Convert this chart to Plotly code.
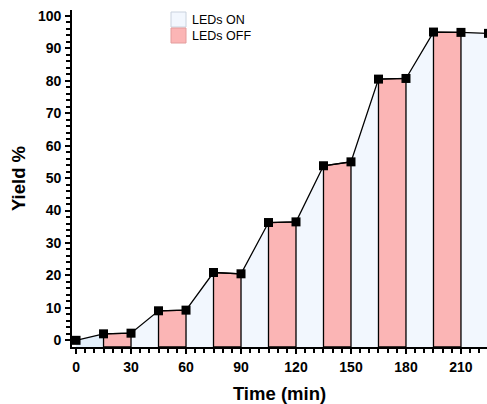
import plotly.graph_objects as go

# ---- data ----
time_min = [0, 15, 30, 45, 60, 75, 90, 105, 120, 135, 150, 165, 180, 195, 210, 225]
yield_pct = [0, 2.0, 2.2, 9.1, 9.3, 20.9, 20.5, 36.3, 36.5, 53.8, 55.0, 80.5, 80.7, 95.0, 94.9, 94.6]
x_ticks = [0, 30, 60, 90, 120, 150, 180, 210]
y_ticks = [0, 10, 20, 30, 40, 50, 60, 70, 80, 90, 100]
legend_labels = ["LEDs ON", "LEDs OFF"]

# ---- style ----
W, H = 487, 404
ML, MR, MT, MB = 72, 0, 10, 57
X_RANGE = [-2.2, 224.2]
Y_RANGE = [-2.06, 101.8]
X_MINOR_STEP = 5
Y_MINOR_STEP = 2
ON_COLOR = "#f2f7fe"
ON_FIRST = "#e3effa"
OFF_COLOR = "#fbb5b5"
FONT = "Liberation Sans, Arial, sans-serif"

fig = go.Figure()
ybase = Y_RANGE[0]

# blue area under the whole curve
fig.add_trace(go.Scatter(
    x=time_min + [time_min[-1], time_min[0]],
    y=yield_pct + [ybase, ybase],
    fill="toself", fillcolor=ON_COLOR, mode="lines",
    line=dict(width=0), hoverinfo="skip", showlegend=False))

# first ON segment slightly bluer
fig.add_trace(go.Scatter(
    x=[time_min[0], time_min[0], time_min[1], time_min[1]],
    y=[ybase, yield_pct[0], yield_pct[1], ybase],
    fill="toself", fillcolor=ON_FIRST, mode="lines",
    line=dict(width=0), hoverinfo="skip", showlegend=False))

# OFF (pink) intervals: 15-30, 45-60, ...
for i in range(1, len(time_min) - 1, 2):
    t0, t1 = time_min[i], time_min[i + 1]
    y0, y1 = yield_pct[i], yield_pct[i + 1]
    fig.add_trace(go.Scatter(
        x=[t0, t0, t1, t1, t0],
        y=[ybase, y0, y1, ybase, ybase],
        fill="toself", fillcolor=OFF_COLOR, mode="lines",
        line=dict(color="black", width=1.3), hoverinfo="skip", showlegend=False))

# data line with square markers
fig.add_trace(go.Scatter(
    x=time_min, y=yield_pct, mode="lines+markers",
    line=dict(color="black", width=1.3),
    marker=dict(symbol="square", size=9, color="black"),
    showlegend=False))

# invisible helper trace so the major-tick overlay axes get drawn
fig.add_trace(go.Scatter(
    x=time_min, y=yield_pct, xaxis="x2", yaxis="y2", mode="markers",
    marker=dict(opacity=0, size=1), hoverinfo="skip", showlegend=False))

# ---- manual legend (paper coords from pixel positions) ----
pw = W - ML - MR
ph = H - MT - MB
def px(x):
    return (x - ML) / pw
def py(y):
    return (H - MB - y) / ph

leg_fill = [ON_COLOR, OFF_COLOR]
leg_line = ["#c9d2de", "#e39c9c"]
for k, (lab, fc, lc) in enumerate(zip(legend_labels, leg_fill, leg_line)):
    top = 12 + k * 16
    fig.add_shape(type="rect", xref="paper", yref="paper",
                  x0=px(171), x1=px(186), y0=py(top), y1=py(top + 15),
                  fillcolor=fc, line=dict(color=lc, width=1))
    fig.add_annotation(xref="paper", yref="paper", x=px(190), y=py(top + 8),
                       text=lab, showarrow=False, xanchor="left", yanchor="middle",
                       font=dict(family=FONT, size=12.5, color="black"))

# all tick positions (minor + major) on the main axes, labels only at majors
x_all = list(range(0, int(X_RANGE[1]) + 1, X_MINOR_STEP))
y_all = list(range(0, int(Y_RANGE[1]) + 1, Y_MINOR_STEP))
x_text = [str(v) if v in x_ticks else "" for v in x_all]
y_text = [str(v) if v in y_ticks else "" for v in y_all]

axis_common = dict(
    showgrid=False, zeroline=False, showline=True, linecolor="black", linewidth=1.6,
    ticks="outside", ticklen=4, tickwidth=1.6, tickcolor="black", ticklabelstandoff=2,
    tickfont=dict(family=FONT, size=14, color="black", weight="bold"),
)
major_common = dict(
    showgrid=False, zeroline=False, showline=False, showticklabels=False,
    ticks="outside", ticklen=6, tickwidth=1.6, tickcolor="black", tickmode="array",
)

fig.update_layout(
    width=W, height=H,
    margin=dict(l=ML, r=MR, t=MT, b=MB),
    paper_bgcolor="white", plot_bgcolor="white",
    showlegend=False,
    xaxis=dict(
        range=X_RANGE, tickmode="array", tickvals=x_all, ticktext=x_text,
        title=dict(text="<b>Time (min)</b>", font=dict(family=FONT, size=18.5, color="black"), standoff=13),
        **axis_common),
    yaxis=dict(
        range=Y_RANGE, tickmode="array", tickvals=y_all, ticktext=y_text,
        title=dict(text="<b>Yield %</b>", font=dict(family=FONT, size=18.5, color="black"), standoff=8),
        **axis_common),
    xaxis2=dict(range=X_RANGE, overlaying="x", anchor="y", side="bottom",
                tickvals=x_ticks, **major_common),
    yaxis2=dict(range=Y_RANGE, overlaying="y", anchor="x", side="left",
                tickvals=y_ticks, **major_common),
)

fig.write_html("out.html")
